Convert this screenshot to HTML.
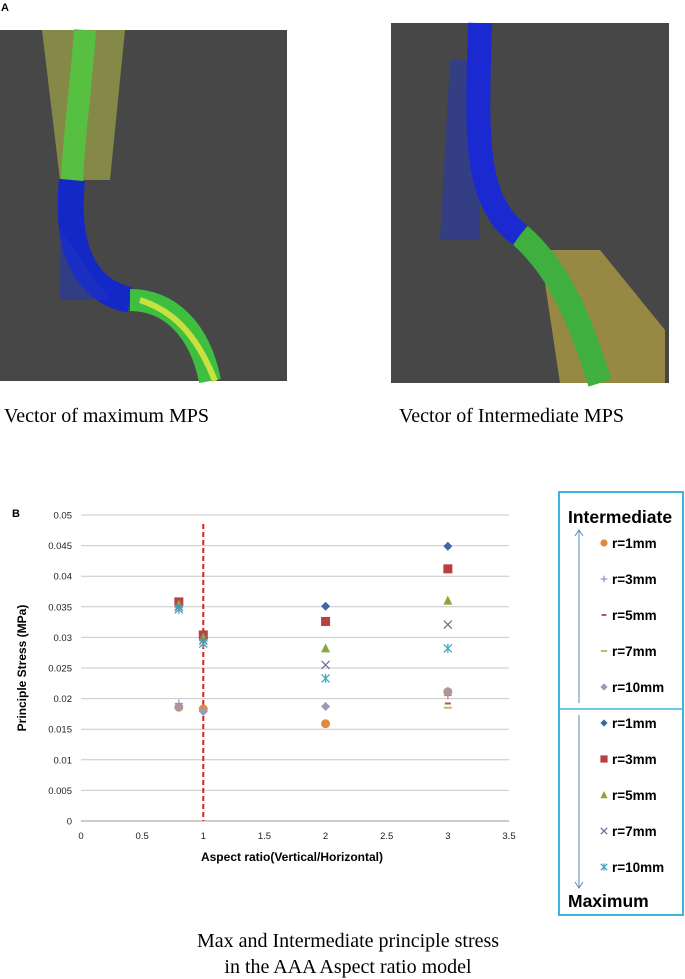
<!DOCTYPE html>
<html><head><meta charset="utf-8">
<style>
body{margin:0;background:#fff;width:685px;height:979px;overflow:hidden;position:relative;font-family:"Liberation Sans",sans-serif}
svg{position:absolute;left:0;top:0}
</style></head>
<body>
<svg width="685" height="979" viewBox="0 0 685 979">
<text x="1" y="11" font-size="11" font-weight="bold">A</text>
<g>
<rect x="0" y="30" width="287" height="351" fill="#474747"/>
<path d="M42 30 L125 30 L110 180 L60 180 Z" fill="#b8c048" opacity="0.55"/>
<path d="M85 30 C80 100 72 150 72 190" stroke="#58c040" stroke-width="22" fill="none"/>
<path d="M72 180 C66 240 80 290 130 300" stroke="#1428c8" stroke-width="26" fill="none"/>
<path d="M60 230 L110 300 L60 300 Z" fill="#2034c0" opacity="0.5"/>
<path d="M130 300 C170 300 200 330 210 381" stroke="#3fbf40" stroke-width="22" fill="none"/>
<path d="M140 300 C170 310 195 330 215 381" stroke="#c8e040" stroke-width="6" fill="none"/>
</g>
<g>
<rect x="391" y="23" width="278" height="360" fill="#474747"/>
<path d="M450 60 L480 60 L480 240 L440 240 Z" fill="#2036c0" opacity="0.5"/>
<path d="M540 250 L600 250 L665 330 L665 383 L560 383 Z" fill="#d8c040" opacity="0.55"/>
<path d="M520 235 C560 270 580 320 600 383" stroke="#3fb040" stroke-width="24" fill="none"/>
<path d="M480 23 C478 120 470 200 520 235" stroke="#1a2ad0" stroke-width="24" fill="none"/>
</g>
<text x="4" y="422" font-family="Liberation Serif, serif" font-size="20">Vector of maximum MPS</text>
<text x="399" y="422" font-family="Liberation Serif, serif" font-size="20">Vector of Intermediate MPS</text>
<text x="12" y="517" font-size="11" font-weight="bold">B</text>
<g id="chart"></g>
<g>
<rect x="559" y="492" width="124" height="423" fill="none" stroke="#3cb4e0" stroke-width="2"/>
<line x1="559" y1="709" x2="683" y2="709" stroke="#3cb4e0" stroke-width="1.5"/>
<text x="568" y="523" font-size="17.5" font-weight="bold">Intermediate</text>
<text x="568" y="907" font-size="17.5" font-weight="bold">Maximum</text>
<line x1="579" y1="530" x2="579" y2="703" stroke="#5a8ab8" stroke-width="1"/>
<path d="M575 536 L579 530 L583 536" stroke="#5a8ab8" fill="none"/>
<line x1="579" y1="715" x2="579" y2="888" stroke="#5a8ab8" stroke-width="1"/>
<path d="M575 882 L579 888 L583 882" stroke="#5a8ab8" fill="none"/>
<g id="legendItems"></g>
</g>
<text x="348" y="947" text-anchor="middle" font-family="Liberation Serif, serif" font-size="20">Max and Intermediate principle stress</text>
<text x="348" y="973" text-anchor="middle" font-family="Liberation Serif, serif" font-size="20">in the AAA Aspect ratio model</text>
</svg>
<script>
const xCats=[0.8,1,2,3];
const yTicks=[0,0.005,0.01,0.015,0.02,0.025,0.03,0.035,0.04,0.045,0.05];
const xTicks=[0,0.5,1,1.5,2,2.5,3,3.5];
const yTickLabels=["0","0.005","0.01","0.015","0.02","0.025","0.03","0.035","0.04","0.045","0.05"];
const xTickLabels=["0","0.5","1","1.5","2","2.5","3","3.5"];
const seriesNames=["Int r=1mm","Int r=3mm","Int r=5mm","Int r=7mm","Int r=10mm","Max r=1mm","Max r=3mm","Max r=5mm","Max r=7mm","Max r=10mm"];
const legendLabels=["r=1mm","r=3mm","r=5mm","r=7mm","r=10mm","r=1mm","r=3mm","r=5mm","r=7mm","r=10mm"];
const intR1=[0.0186,0.0183,0.0159,0.0211];
const intR3=[0.0192,0.0180,0.0188,0.0205];
const intR5=[0.0186,0.0180,0.0187,0.0192];
const intR7=[0.0186,0.0180,0.0187,0.0185];
const intR10=[0.0186,0.0179,0.0187,0.0212];
const maxR1=[0.0355,0.0300,0.0351,0.0449];
const maxR3=[0.0358,0.0304,0.0326,0.0412];
const maxR5=[0.0354,0.0300,0.0282,0.0360];
const maxR7=[0.0350,0.0295,0.0255,0.0321];
const maxR10=[0.0346,0.0290,0.0233,0.0282];
const seriesVals=[intR1,intR3,intR5,intR7,intR10,maxR1,maxR3,maxR5,maxR7,maxR10];
const markers=["circle","plus","dashR","dashG","diamondP","diamond","square","triangle","x","star"];
const colors=["#e08a40","#9090c8","#c05050","#b8c070","#a098b8","#3a68a8","#b84040","#88a838","#7a6a98","#40a8c0"];

const NS="http://www.w3.org/2000/svg";
const X0=81,X1=509,Y0=821,Y1=515;
const sx=v=>X0+(v/3.5)*(X1-X0);
const sy=v=>Y0-(v/0.05)*(Y0-Y1);
const chart=document.getElementById('chart');
function mk(tag,attrs,parent){const e=document.createElementNS(NS,tag);for(const k in attrs)e.setAttribute(k,attrs[k]);parent.appendChild(e);return e;}
yTicks.forEach((t,i)=>{
  const g=mk('line',{x1:X0,x2:X1,y1:sy(t),y2:sy(t),stroke:i===0?'#999':'#c8c8c8','stroke-width':1},chart);
  
  
  const l=mk('text',{x:72,y:sy(t)+3.5,'text-anchor':'end','font-size':9.5,fill:'#222'},chart);
  l.textContent=yTickLabels[i];
  
  
});
xTicks.forEach((t,i)=>{
  const l=mk('text',{x:sx(t),y:839,'text-anchor':'middle','font-size':9.5,fill:'#222'},chart);
  l.textContent=xTickLabels[i];
  
  
});
const yt=mk('text',{x:0,y:0,transform:'translate(26,668) rotate(-90)','text-anchor':'middle','font-size':12,'font-weight':'bold'},chart);
yt.textContent='Principle Stress (MPa)';


const xt=mk('text',{x:292,y:861,'text-anchor':'middle','font-size':12,'font-weight':'bold'},chart);
xt.textContent='Aspect ratio(Vertical/Horizontal)';


const ref=mk('line',{x1:sx(1),x2:sx(1),y1:524,y2:Y0,stroke:'#e02020','stroke-width':2,'stroke-dasharray':'5,3'},chart);



function drawMarker(type,x,y,c,parent,s){
  s=s||1;let e;
  switch(type){
    case 'circle': e=mk('circle',{cx:x,cy:y,r:4.5*s,fill:c},parent);break;
    case 'plus': e=mk('path',{d:`M${x-4*s} ${y}H${x+4*s}M${x} ${y-4*s}V${y+4*s}`,stroke:c,'stroke-width':1.2},parent);break;
    case 'dashR': e=mk('rect',{x:x-3*s,y:y-1,width:6*s,height:2,fill:c},parent);break;
    case 'dashG': e=mk('rect',{x:x-4*s,y:y-1,width:8*s,height:2,fill:c},parent);break;
    case 'diamondP': e=mk('path',{d:`M${x} ${y-4.5*s}L${x+4.5*s} ${y}L${x} ${y+4.5*s}L${x-4.5*s} ${y}Z`,fill:c},parent);break;
    case 'diamond': e=mk('path',{d:`M${x} ${y-4.5*s}L${x+4.5*s} ${y}L${x} ${y+4.5*s}L${x-4.5*s} ${y}Z`,fill:c},parent);break;
    case 'square': e=mk('rect',{x:x-4.5*s,y:y-4.5*s,width:9*s,height:9*s,fill:c},parent);break;
    case 'triangle': e=mk('path',{d:`M${x} ${y-5*s}L${x+4.5*s} ${y+4*s}L${x-4.5*s} ${y+4*s}Z`,fill:c},parent);break;
    case 'x': e=mk('path',{d:`M${x-4*s} ${y-4*s}L${x+4*s} ${y+4*s}M${x+4*s} ${y-4*s}L${x-4*s} ${y+4*s}`,stroke:c,'stroke-width':1.3},parent);break;
    case 'star': e=mk('path',{d:`M${x-4*s} ${y-4*s}L${x+4*s} ${y+4*s}M${x+4*s} ${y-4*s}L${x-4*s} ${y+4*s}M${x} ${y-4.5*s}V${y+4.5*s}`,stroke:c,'stroke-width':1.3},parent);break;
  }
  return e;
}
seriesVals.forEach((vals,si)=>{
  vals.forEach((v,i)=>{
    const m=drawMarker(markers[si],sx(xCats[i]),sy(v),colors[si],chart);
    
    
  });
});
const legendYs=[548,584,620,656,692,728,764,800,836,872];
const li=document.getElementById('legendItems');
legendLabels.forEach((lab,i)=>{
  const m=drawMarker(markers[i],604,legendYs[i]-5,colors[i],li,0.8);
  
  
  const t=mk('text',{x:612,y:legendYs[i],'font-size':13.5,'font-weight':'bold'},li);
  t.textContent=lab;
  
  
});
</script>
</body></html>
